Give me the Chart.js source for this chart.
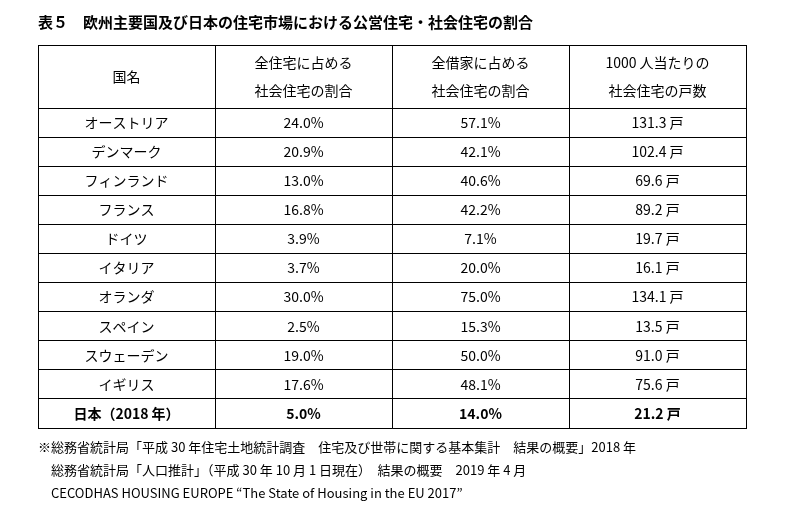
<!DOCTYPE html>
<html><head><meta charset="utf-8">
<script src="https://cdn.jsdelivr.net/npm/chart.js@4/dist/chart.umd.min.js"></script>
<style>body{margin:0;background:#fff}#wrap{width:790px;height:510px}</style>
</head><body><div id="wrap"><canvas id="c"></canvas></div>
<script>
const titleText = '表５　欧州主要国及び日本の住宅市場における公営住宅・社会住宅の割合';
const headers = [['国名'], ['全住宅に占める', '社会住宅の割合'], ['全借家に占める', '社会住宅の割合'], ['1000 人当たりの', '社会住宅の戸数']];
const countries = ['オーストリア', 'デンマーク', 'フィンランド', 'フランス', 'ドイツ', 'イタリア', 'オランダ', 'スペイン', 'スウェーデン', 'イギリス', '日本（2018 年）'];
const shareAll = [24.0, 20.9, 13.0, 16.8, 3.9, 3.7, 30.0, 2.5, 19.0, 17.6, 5.0];
const shareRent = [57.1, 42.1, 40.6, 42.2, 7.1, 20.0, 75.0, 15.3, 50.0, 48.1, 14.0];
const per1000 = [131.3, 102.4, 69.6, 89.2, 19.7, 16.1, 134.1, 13.5, 91.0, 75.6, 21.2];
const notes = [
  '※総務省統計局「平成 30 年住宅土地統計調査　住宅及び世帯に関する基本集計　結果の概要」2018 年',
  '　総務省統計局「人口推計」（平成 30 年 10 月 1 日現在）　結果の概要　2019 年 4 月',
  '　CECODHAS HOUSING EUROPE “The State of Housing in the EU 2017”'
];

const HEAD = 2.17; // header row height in row units
const yBounds = [0, HEAD].concat(countries.map((_, i) => HEAD + i + 1));
const FONT = '"Noto Sans CJK JP", "Noto Sans", sans-serif';

const tablePlugin = {
  id: 'tableText',
  afterDraw(chart) {
    const ctx = chart.ctx, xs = chart.scales.x, ys = chart.scales.y;
    ctx.save();
    ctx.fillStyle = '#000';
    ctx.textBaseline = 'middle';
    // title
    ctx.textAlign = 'left';
    ctx.font = 'bold 15px ' + FONT;
    ctx.fillText(titleText, 38, 22);
    // header
    ctx.textAlign = 'center';
    ctx.font = '14px ' + FONT;
    headers.forEach((lines, c) => {
      const cx = xs.getPixelForValue(c + 0.5);
      const cy = ys.getPixelForValue(HEAD / 2);
      lines.forEach((t, k) => ctx.fillText(t, cx, cy + (k - (lines.length - 1) / 2) * 28));
    });
    // body
    countries.forEach((name, i) => {
      const cy = ys.getPixelForValue(HEAD + i + 0.5);
      const last = i === countries.length - 1;
      ctx.font = (last ? 'bold ' : '') + '14px ' + FONT;
      const cells = [name, shareAll[i].toFixed(1) + '%', shareRent[i].toFixed(1) + '%', per1000[i].toFixed(1) + ' 戸'];
      cells.forEach((t, c) => ctx.fillText(t, xs.getPixelForValue(c + 0.5), cy));
    });
    // notes
    ctx.textAlign = 'left';
    ctx.font = '13px ' + FONT;
    notes.forEach((t, k) => ctx.fillText(t, 38, 447 + k * 23));
    ctx.restore();
  }
};

new Chart(document.getElementById('c'), {
  type: 'scatter',
  data: { datasets: [{ data: [] }] },
  plugins: [tablePlugin],
  options: {
    responsive: true,
    maintainAspectRatio: false,
    animation: false,
    layout: { padding: { left: 38, right: 44, top: 45, bottom: 82 } },
    plugins: { legend: { display: false }, tooltip: { enabled: false } },
    scales: {
      x: {
        type: 'linear', min: 0, max: 4,
        afterBuildTicks: s => { s.ticks = [0, 1, 2, 3, 4].map(v => ({ value: v })); },
        ticks: { display: false },
        grid: { color: '#000', lineWidth: 1, drawTicks: false },
        border: { color: '#000' }
      },
      y: {
        type: 'linear', min: 0, max: HEAD + countries.length, reverse: true,
        afterBuildTicks: s => { s.ticks = yBounds.map(v => ({ value: v })); },
        ticks: { display: false },
        grid: { color: '#000', lineWidth: 1, drawTicks: false },
        border: { color: '#000' }
      }
    }
  }
});
</script></body></html>
